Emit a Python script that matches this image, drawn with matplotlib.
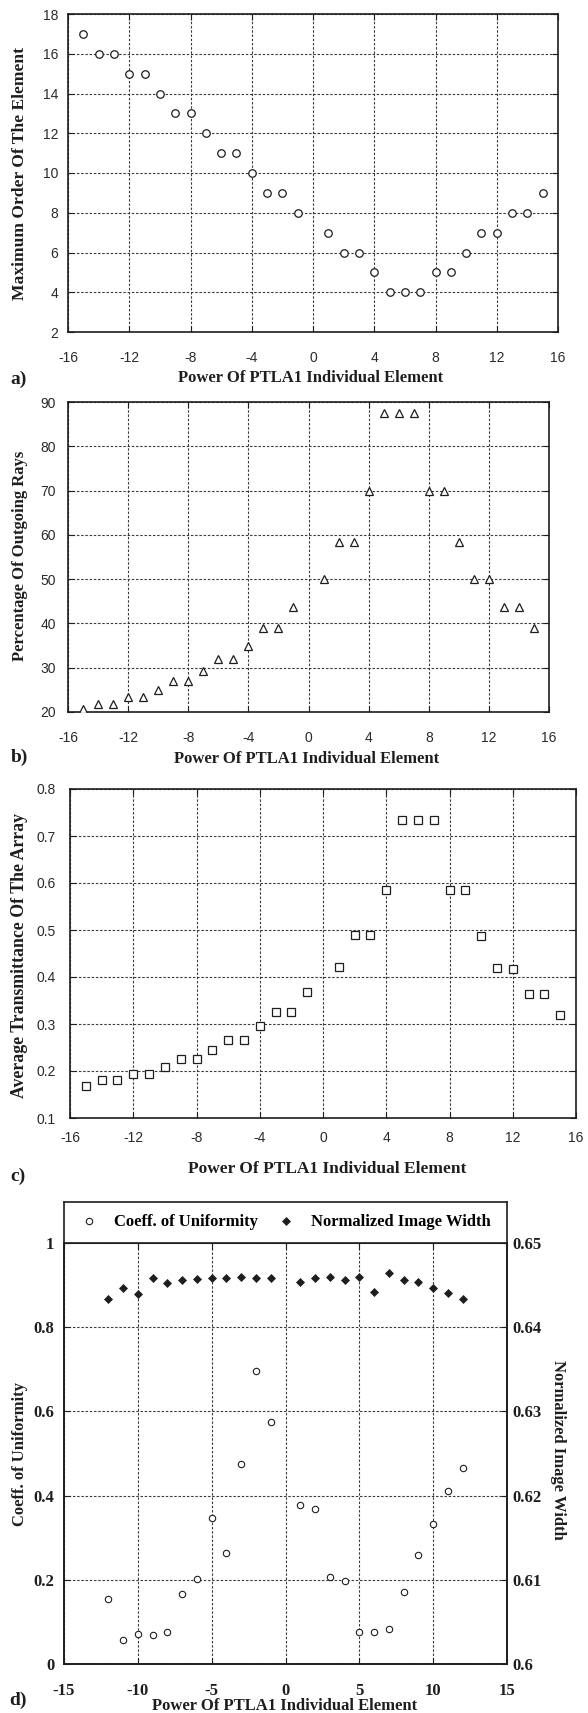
import matplotlib
matplotlib.use('Agg')
import matplotlib.pyplot as plt
from matplotlib.ticker import FormatStrFormatter
import numpy as np

W, H = 588, 1713

# ---------------- data ----------------
power_abc = [-15, -14, -13, -12, -11, -10, -9, -8, -7, -6, -5, -4, -3, -2, -1,
             1, 2, 3, 4, 5, 6, 7, 8, 9, 10, 11, 12, 13, 14, 15]
max_order = [17, 16, 16, 15, 15, 14, 13, 13, 12, 11, 11, 10, 9, 9, 8,
             7, 6, 6, 5, 4, 4, 4, 5, 5, 6, 7, 7, 8, 8, 9]
pct_rays = [20.6, 21.9, 21.9, 23.4, 23.4, 25.0, 26.9, 26.9, 29.2, 31.9, 31.9, 35.0, 38.9, 38.9, 43.8,
            50.0, 58.3, 58.3, 70.0, 87.5, 87.5, 87.5, 70.0, 70.0, 58.3, 50.0, 50.0, 43.8, 43.8, 38.9]
transmittance = [0.169, 0.181, 0.181, 0.194, 0.194, 0.209, 0.225, 0.225, 0.245, 0.266, 0.266, 0.295,
                 0.326, 0.326, 0.368, 0.421, 0.489, 0.489, 0.586, 0.734, 0.734, 0.734, 0.586, 0.586,
                 0.487, 0.419, 0.417, 0.364, 0.363, 0.320]

power_d = [-12, -11, -10, -9, -8, -7, -6, -5, -4, -3, -2, -1,
           1, 2, 3, 4, 5, 6, 7, 8, 9, 10, 11, 12]
coeff_uniformity = [0.155, 0.056, 0.071, 0.070, 0.076, 0.166, 0.201, 0.347, 0.264, 0.475, 0.697, 0.575,
                    0.378, 0.367, 0.206, 0.198, 0.077, 0.077, 0.084, 0.171, 0.258, 0.333, 0.410, 0.465]
image_width = [0.6434, 0.6446, 0.6440, 0.6458, 0.6452, 0.6456, 0.6457, 0.6458, 0.6458, 0.6460, 0.6459, 0.6459,
               0.6454, 0.6459, 0.6460, 0.6456, 0.6460, 0.6442, 0.6464, 0.6456, 0.6454, 0.6447, 0.6441, 0.6434]

xticks_abc = [-16, -12, -8, -4, 0, 4, 8, 12, 16]
yticks_a = [2, 4, 6, 8, 10, 12, 14, 16, 18]
yticks_b = [20, 30, 40, 50, 60, 70, 80, 90]
yticks_c = [0.1, 0.2, 0.3, 0.4, 0.5, 0.6, 0.7, 0.8]
xticks_d = [-15, -10, -5, 0, 5, 10, 15]
yticks_d = [0, 0.2, 0.4, 0.6, 0.8, 1.0]
yticks_d2 = [0.6, 0.61, 0.62, 0.63, 0.64, 0.65]

xlabel_txt = "Power Of PTLA1 Individual Element"

# ---------------- helpers ----------------
SERIF = ['Liberation Serif', 'DejaVu Serif']
SANS = ['Liberation Sans', 'DejaVu Sans']
GRID = dict(color='#3a3a3a', linestyle=(0, (2.2, 1.6)), linewidth=0.8)
DARK = '#1e1e1e'


def rect(l, t, r, b):
    return [l / W, 1 - b / H, (r - l) / W, (b - t) / H]


def ftext(x, y, s, **kw):
    return fig.text(x / W, 1 - y / H, s, ha='center', va='center', **kw)


def style(ax, xpad, ypad, family, size, weight, color):
    ax.grid(True, **GRID)
    ax.set_axisbelow(True)
    for s in ax.spines.values():
        s.set_linewidth(1.2)
        s.set_color(DARK)
    ax.tick_params(direction='in', length=4, width=0.8, top=True, right=True,
                   color=DARK, labelcolor=color)
    ax.tick_params(axis='x', pad=xpad)
    ax.tick_params(axis='y', pad=ypad)
    ax.xaxis.set_major_formatter(FormatStrFormatter('%g'))
    ax.yaxis.set_major_formatter(FormatStrFormatter('%g'))
    for lab in ax.get_xticklabels() + ax.get_yticklabels():
        lab.set_fontfamily(family)
        lab.set_fontsize(size)
        lab.set_fontweight(weight)


fig = plt.figure(figsize=(W / 100, H / 100), dpi=100)
LBL = dict(family=SERIF, fontweight='bold', fontsize=12, color=DARK)
PNL = dict(family=SERIF, fontweight='bold', fontsize=14, color=DARK)

# ---------------- panel a ----------------
ax = fig.add_axes(rect(68, 14, 558, 332))
ax.plot(power_abc, max_order, linestyle='none', marker='o', ms=5.4, mfc='white',
        mec=DARK, mew=0.9, zorder=3)
ax.set_xlim(-16, 16)
ax.set_ylim(2, 18)
ax.set_xticks(xticks_abc)
ax.set_yticks(yticks_a)
style(ax, 13.5, 7, SANS, 10, 'normal', '#2a2a2a')
ftext(20, 173, "Maximum Order Of The Element", rotation=90, **dict(LBL, fontsize=12.6))
ftext(311, 378, xlabel_txt, **LBL)
ftext(19, 379, "a)", **PNL)

# ---------------- panel b ----------------
ax = fig.add_axes(rect(68, 402, 549, 712))
ax.plot(power_abc, pct_rays, linestyle='none', marker='^', ms=5.8, mfc='white',
        mec=DARK, mew=0.9, zorder=3)
ax.set_xlim(-16, 16)
ax.set_ylim(20, 90)
ax.set_xticks(xticks_abc)
ax.set_yticks(yticks_b)
style(ax, 13.5, 8.5, SANS, 10, 'normal', '#2a2a2a')
ftext(20, 556, "Percentage Of Outgoing Rays", rotation=90, **LBL)
ftext(307, 759, xlabel_txt, **LBL)
ftext(19, 757, "b)", **PNL)

# ---------------- panel c ----------------
ax = fig.add_axes(rect(70, 789, 576, 1118))
ax.plot(power_abc, transmittance, linestyle='none', marker='s', ms=5.2, mfc='white',
        mec=DARK, mew=0.9, zorder=3)
ax.set_xlim(-16, 16)
ax.set_ylim(0.1, 0.8)
ax.set_xticks(xticks_abc)
ax.set_yticks(yticks_c)
style(ax, 9, 10, SANS, 10, 'normal', '#2a2a2a')
ftext(20, 955, "Average Transmittance Of The Array", rotation=90, **dict(LBL, fontsize=12.8))
ftext(327, 1169, xlabel_txt, **dict(LBL, fontsize=12.5))
ftext(18, 1176, "c)", **PNL)

# ---------------- panel d ----------------
ax = fig.add_axes(rect(64, 1243, 507, 1664))
h1, = ax.plot(power_d, coeff_uniformity, linestyle='none', marker='o', ms=4.6,
              mfc='white', mec=DARK, mew=0.8, zorder=3, label="Coeff. of Uniformity")
ax.set_xlim(-15, 15)
ax.set_ylim(0, 1)
ax.set_xticks(xticks_d)
ax.set_yticks(yticks_d)
style(ax, 14, 7, SERIF, 12, 'bold', DARK)
ax.tick_params(right=False)

ax2 = ax.twinx()
h2, = ax2.plot(power_d, image_width, linestyle='none', marker='D', ms=3.6,
               mfc=DARK, mec=DARK, mew=0.5, zorder=3, label="Normalized Image Width")
ax2.set_ylim(0.6, 0.65)
ax2.set_yticks(yticks_d2)
ax2.yaxis.set_major_formatter(FormatStrFormatter('%g'))
ax2.tick_params(direction='in', length=4, width=0.8, color=DARK, labelcolor=DARK, pad=4)
for lab in ax2.get_yticklabels():
    lab.set_fontfamily(SERIF)
    lab.set_fontsize(12)
    lab.set_fontweight('bold')
for s in ax2.spines.values():
    s.set_linewidth(1.2)
    s.set_color(DARK)

axl = fig.add_axes(rect(64, 1202, 507, 1243))
axl.set_xticks([])
axl.set_yticks([])
for s in axl.spines.values():
    s.set_linewidth(1.2)
    s.set_color(DARK)
axl.legend(handles=[h1, h2], loc='center', ncol=2, frameon=False, numpoints=1,
           handlelength=1.0, handletextpad=1.0, columnspacing=1.2,
           prop=dict(family=SERIF, weight='bold', size=12))

ftext(20, 1454, "Coeff. of Uniformity", rotation=90, **LBL)
ftext(558, 1450, "Normalized Image Width", rotation=-90, **LBL)
ftext(285, 1706, xlabel_txt, **LBL)
ftext(18, 1700, "d)", **PNL)

fig.savefig('out.png', dpi=100, facecolor='white')
